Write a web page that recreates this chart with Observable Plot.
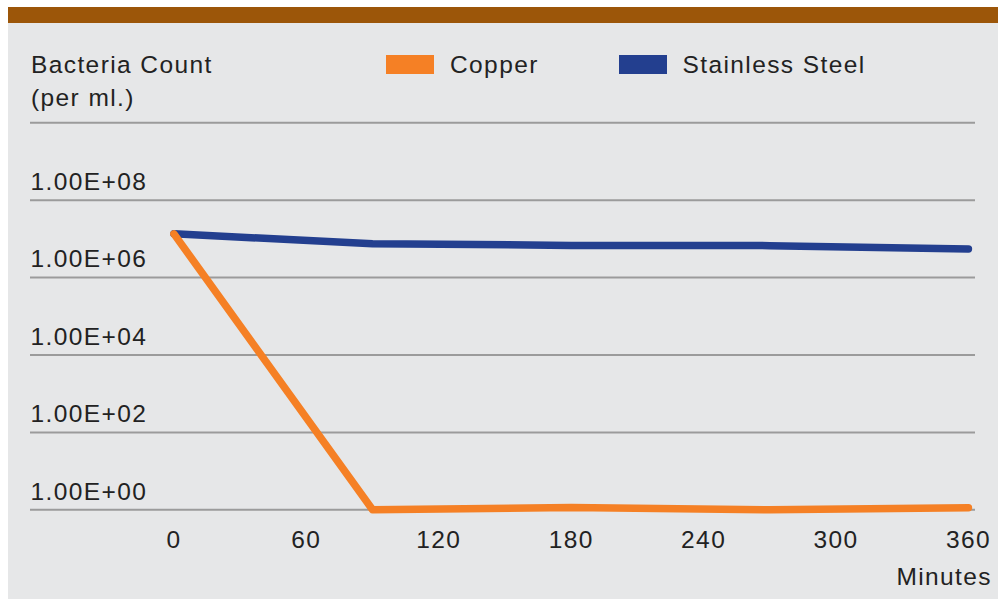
<!DOCTYPE html>
<html>
<head>
<meta charset="utf-8">
<script src="https://cdn.jsdelivr.net/npm/d3@7"></script>
<script src="https://cdn.jsdelivr.net/npm/@observablehq/plot@0.6"></script>
<style>
  html, body { margin: 0; padding: 0; background: #ffffff; }
  #wrap { position: relative; width: 998px; height: 599px; overflow: hidden;
          font-family: "Liberation Sans", Arial, Helvetica, sans-serif; color: #222; }
  #panel { position: absolute; left: 8px; top: 23px; width: 990px; height: 576px; background: #e6e7e8; }
  #bar { position: absolute; left: 8px; top: 7px; width: 990px; height: 16px; background: #9c5609; }
  .lbl { position: absolute; font-size: 24.5px; line-height: 24.5px; letter-spacing: 1.4px; white-space: nowrap; color: #222; }
  .sw { position: absolute; height: 19px; width: 48px; }
  #chart { position: absolute; left: 0; top: 0; }
</style>
</head>
<body>
<div id="wrap">
  <div id="panel"></div>
  <div id="bar"></div>
  <div id="chart"></div>
  <div class="lbl" style="left:31px; top:52.5px;">Bacteria Count</div>
  <div class="lbl" style="left:31px; top:85.5px;">(per ml.)</div>
  <div id="legend"></div>
  <div class="lbl" style="right:6px; top:564.5px;">Minutes</div>
</div>
<script>
// ---- data ----
const minutes = [0, 90, 180, 270, 360];
const copper = [1.35e7, 1, 1.15, 1, 1.13];
const stainlessSteel = [1.35e7, 7.5e6, 6.8e6, 6.7e6, 5.5e6];
const seriesNames = ["Copper", "Stainless Steel"];
const seriesColors = ["#f58025", "#233f8f"];
const xTicks = [0, 60, 120, 180, 240, 300, 360];
const yTicks = [1, 1e2, 1e4, 1e6, 1e8];
const yTickLabels = ["1.00E+00", "1.00E+02", "1.00E+04", "1.00E+06", "1.00E+08"];
const gridValues = [1, 1e2, 1e4, 1e6, 1e8, 1e10];

const rows = [];
minutes.forEach((m, i) => {
  rows.push({series: seriesNames[0], minute: m, count: copper[i]});
  rows.push({series: seriesNames[1], minute: m, count: stainlessSteel[i]});
});
const steelRows = rows.filter(d => d.series === seriesNames[1]);
const copperRows = rows.filter(d => d.series === seriesNames[0]);

const chart = Plot.plot({
  width: 998,
  height: 599,
  marginTop: 122.3,
  marginBottom: 89.7,
  marginLeft: 30,
  marginRight: 23,
  style: {
    background: "transparent",
    fontFamily: "'Liberation Sans', Arial, Helvetica, sans-serif",
    fontSize: "24.5px",
    letterSpacing: "1.4px",
    color: "#222",
    overflow: "visible"
  },
  x: {domain: [-65, 363.2], axis: null},
  y: {type: "log", domain: [1, 1e10], axis: null},
  marks: [
    Plot.ruleY(gridValues, {y: d => d, stroke: "#9b9b9b", strokeWidth: 2, strokeOpacity: 1}),
    Plot.line(steelRows, {x: "minute", y: "count", stroke: seriesColors[1], strokeWidth: 7.5,
      strokeLinecap: "round", strokeLinejoin: "round"}),
    Plot.line(copperRows, {x: "minute", y: "count", stroke: seriesColors[0], strokeWidth: 7.5,
      strokeLinecap: "round", strokeLinejoin: "round"}),
    Plot.text(yTicks, {y: d => d, text: (d, i) => yTickLabels[i], frameAnchor: "left",
      textAnchor: "start", lineAnchor: "bottom", dy: -10.3, fill: "#222", fontSize: 24.5}),
    Plot.axisX(xTicks, {tickSize: 0, tickPadding: 21, fontSize: 24.5, fill: "#222", anchor: "bottom", label: null})
  ]
});
document.getElementById("chart").appendChild(chart);

// legend
const legend = document.getElementById("legend");
const swLeft = [386, 618.5];
const txtLeft = [450, 682.5];
seriesNames.forEach((name, i) => {
  const sw = document.createElement("div");
  sw.className = "sw";
  sw.style.left = swLeft[i] + "px";
  sw.style.top = "54.5px";
  sw.style.background = seriesColors[i];
  legend.appendChild(sw);
  const t = document.createElement("div");
  t.className = "lbl";
  t.style.left = txtLeft[i] + "px";
  t.style.top = "52.5px";
  t.textContent = name;
  legend.appendChild(t);
});
</script>
</body>
</html>
